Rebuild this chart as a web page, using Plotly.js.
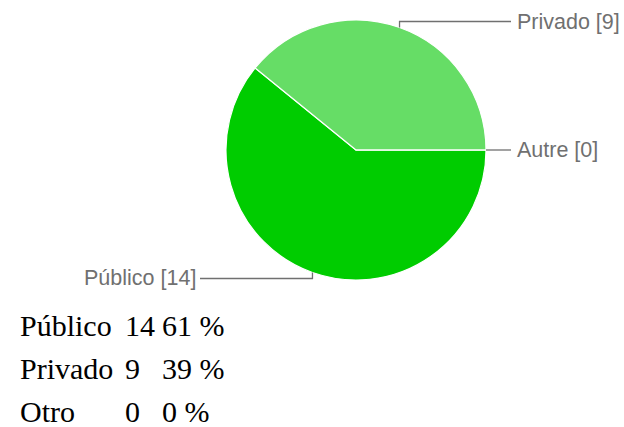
<!DOCTYPE html>
<html>
<head>
<meta charset="utf-8">
<script src="https://cdn.plot.ly/plotly-3.0.1.min.js"></script>
<style>html,body{margin:0;padding:0;background:#fff;}#chart{width:624px;height:427px;}</style>
</head>
<body>
<div id="chart"></div>
<script>
// Pie data (order as drawn, clockwise from 3 o'clock)
const pieLabels = ['Público', 'Privado', 'Autre'];
const pieValues = [14, 9, 0];
const pieColors = ['#00cc00', '#66dd66', '#aaaaaa'];

// Summary table below the chart
const tableLabels = ['Público', 'Privado', 'Otro'];
const tableCounts = [14, 9, 0];
const tablePercents = [61, 39, 0];

const W = 624, H = 427;
const cx = 356, cy = 150, R = 130;

const px = x => x / W;
const py = y => 1 - y / H;

const data = [{
  type: 'pie',
  labels: pieLabels,
  values: pieValues,
  sort: false,
  direction: 'clockwise',
  rotation: 90,
  textinfo: 'none',
  hoverinfo: 'label+value+percent',
  marker: {colors: pieColors, line: {color: '#ffffff', width: 1.2}},
  domain: {x: [px(cx - R), px(cx + R)], y: [py(cy + R), py(cy - R)]},
  showlegend: false
}];

// leader lines & labels computed from the slice angles (clockwise from east)
const total = pieValues.reduce((a, b) => a + b, 0);
const shapes = [];
const annotations = [];
let acc = 0;
pieValues.forEach((v, i) => {
  const mid = -(acc + v / 2) / total * 2 * Math.PI; // ccw angle from east
  acc += v;
  const ex = cx + R * Math.cos(mid);
  const ey = cy - R * Math.sin(mid);
  const right = Math.cos(mid) >= 0;
  const vy = Math.abs(Math.sin(mid)) > 0.05 ? (Math.sin(mid) > 0 ? ey - 6 : ey + 6) : ey;
  const hx = right ? 511 : 200;
  shapes.push({
    type: 'path', xref: 'paper', yref: 'paper',
    path: `M ${px(ex)} ${py(ey)} L ${px(ex)} ${py(vy)} L ${px(hx)} ${py(vy)}`,
    line: {color: '#707070', width: 1.3}
  });
  annotations.push({
    xref: 'paper', yref: 'paper', x: px(right ? hx + 4 : hx - 2), y: py(vy),
    xanchor: right ? 'left' : 'right', yanchor: 'middle',
    text: `${pieLabels[i]} [${v}]`, showarrow: false,
    font: {family: 'Liberation Sans, Arial, sans-serif', size: 21.5, color: '#707070'}
  });
});

const tableFont = {family: 'Liberation Serif, Times New Roman, serif', size: 30, color: '#000000'};
const rowY = [325, 368, 411];
tableLabels.forEach((lab, i) => {
  annotations.push({xref: 'paper', yref: 'paper', x: px(18), y: py(rowY[i]), xanchor: 'left', yanchor: 'middle',
    text: lab, showarrow: false, font: tableFont});
  annotations.push({xref: 'paper', yref: 'paper', x: px(123), y: py(rowY[i]), xanchor: 'left', yanchor: 'middle',
    text: String(tableCounts[i]), showarrow: false, font: tableFont});
  annotations.push({xref: 'paper', yref: 'paper', x: px(160), y: py(rowY[i]), xanchor: 'left', yanchor: 'middle',
    text: tablePercents[i] + ' %', showarrow: false, font: tableFont});
});

const layout = {
  width: W, height: H,
  margin: {l: 0, r: 0, t: 0, b: 0},
  paper_bgcolor: '#ffffff', plot_bgcolor: '#ffffff',
  shapes: shapes,
  annotations: annotations
};

Plotly.newPlot('chart', data, layout, {displayModeBar: false, staticPlot: true});
</script>
</body>
</html>
